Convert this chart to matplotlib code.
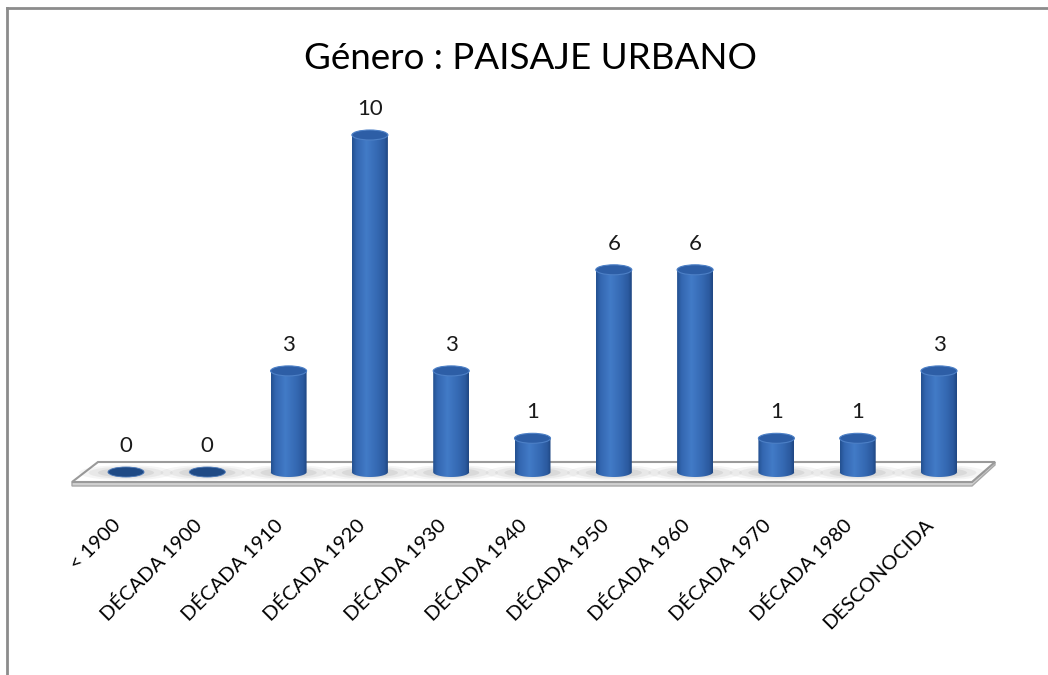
import numpy as np
import matplotlib.pyplot as plt
from matplotlib.patches import Ellipse, Polygon, PathPatch
from matplotlib.path import Path
from matplotlib.colors import LinearSegmentedColormap

# chart data
categories = ['< 1900', 'DÉCADA 1900', 'DÉCADA 1910', 'DÉCADA 1920', 'DÉCADA 1930',
              'DÉCADA 1940', 'DÉCADA 1950', 'DÉCADA 1960', 'DÉCADA 1970',
              'DÉCADA 1980', 'DESCONOCIDA']
values = [0, 0, 3, 10, 3, 1, 6, 6, 1, 1, 3]
title = 'Género : PAISAJE URBANO'

plt.rcParams['font.family'] = ['Lato', 'DejaVu Sans']

# pixel layout of the picture (x0 = first bar centre, dx = step, y0 = base, dy = px per unit)
W, H = 1048, 675
x0, dx = 126, 81.3
y0, dy = 472, 33.7

def px(xp, yp):
    return (xp - x0) / dx, (y0 - yp) / dy

fig = plt.figure(figsize=(W / 100, H / 100), dpi=100)
ax = fig.add_axes([0, 0, 1, 1])
ax.axis('off')

# floor
floor_pts = [px(72, 482), px(98, 462), px(995, 462), px(972, 482)]
thick_pts = [px(72, 482), px(972, 482), px(995, 462), px(995, 465), px(972, 486), px(72, 486)]
ax.add_patch(Polygon(thick_pts, closed=True, facecolor='#d0d0d0', edgecolor='#a8a8a8', lw=1, zorder=1))
ax.add_patch(Polygon(floor_pts, closed=True, facecolor='white', edgecolor='#9a9a9a', lw=1.5, zorder=1))

bw = 36 / dx      # cylinder width
eh = 10 / dy      # ellipse height

# soft shadows on the floor
for i in range(len(values)):
    for k, a in zip([1.0, 0.8, 0.6, 0.4], [0.06, 0.08, 0.10, 0.12]):
        ax.add_patch(Ellipse((i, -0.02), bw * 2.6 * k, 0.45 * k, facecolor='#5a5a5a',
                             edgecolor='none', alpha=a, zorder=1.5))

cmap = LinearSegmentedColormap.from_list('cyl', [
    (0.0, '#23508f'), (0.12, '#3366b0'), (0.4, '#427bc7'),
    (0.7, '#3569b3'), (0.9, '#2b5a9f'), (1.0, '#1f4682')])
grad = np.linspace(0, 1, 200).reshape(1, -1)

for i, v in enumerate(values):
    if v == 0:
        ax.add_patch(Ellipse((i, 0), bw, eh, facecolor='#1f4a85',
                             edgecolor='#4a78b8', lw=0.6, zorder=3))
    else:
        t = np.linspace(np.pi, 2 * np.pi, 40)
        xs = i + bw / 2 * np.cos(t)
        ys = eh / 2 * np.sin(t)
        verts = list(zip(xs, ys)) + [(i + bw / 2, v), (i - bw / 2, v), (xs[0], ys[0])]
        body = PathPatch(Path(verts), facecolor='none', edgecolor='none', transform=ax.transData)
        ax.add_patch(body)
        im = ax.imshow(grad, extent=[i - bw / 2, i + bw / 2, -eh / 2, v], aspect='auto',
                       cmap=cmap, zorder=3, interpolation='bilinear')
        im.set_clip_path(body)
        ax.add_patch(Ellipse((i, v), bw, eh, facecolor='#2d5ea6',
                             edgecolor='#4d80c6', lw=0.8, zorder=4))
    ax.text(i, v + 26 / dy, str(v), ha='center', va='center', fontsize=16, color='#1a1a1a', zorder=5)

    lx, ly = px(x0 + i * dx - 8, 522)
    ax.text(lx, ly, categories[i], rotation=45, ha='right', va='center',
            rotation_mode='anchor', fontsize=14.5, color='black')

tx, ty = px(531, 58)
ax.text(tx, ty, title, ha='center', va='center', fontsize=26.5, color='black')

ax.set_xlim(px(0, 0)[0], px(W, 0)[0])
ax.set_ylim(px(0, H)[1], px(0, 0)[1])

# chart border (top and left edges visible)
bx0, by0 = px(7, 8)
bx1, by1 = px(W, H)
ax.plot([bx0, bx1], [by0, by0], color='#8c8c8c', lw=2, clip_on=False, zorder=6)
ax.plot([bx0, bx0], [by0, by1], color='#8c8c8c', lw=2, clip_on=False, zorder=6)

fig.savefig('out.png', dpi=100)
